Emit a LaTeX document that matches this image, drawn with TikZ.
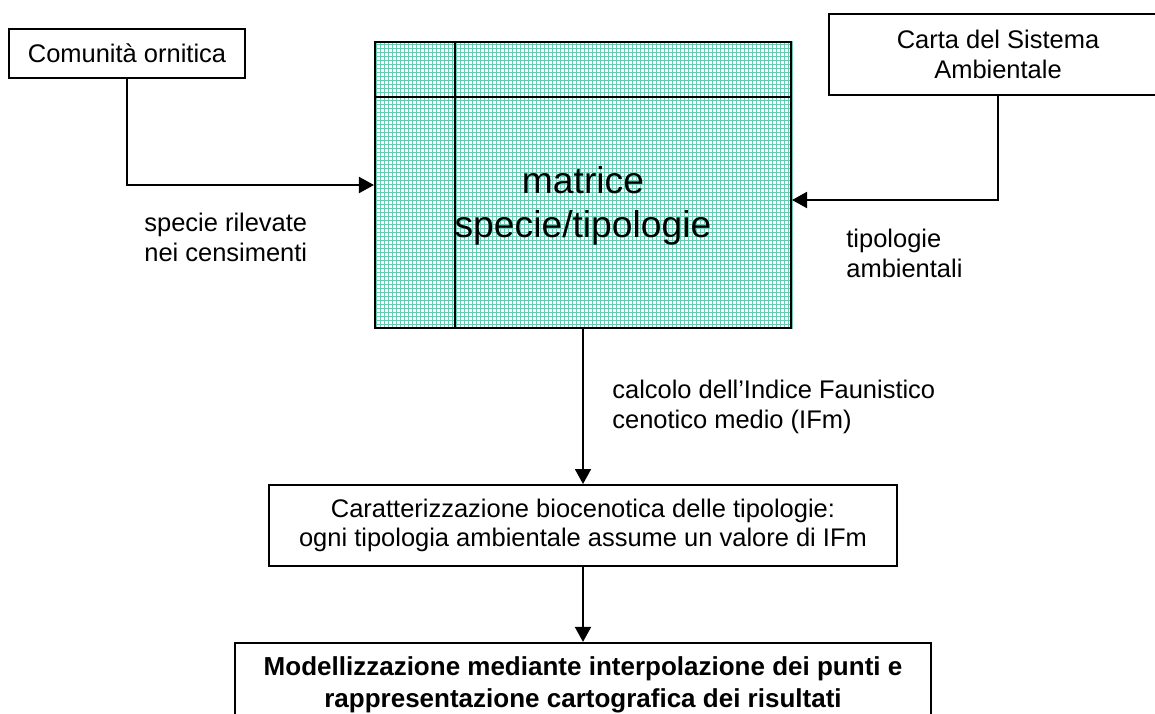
\documentclass[tikz,border=0pt]{standalone}
\usepackage{fontspec}
\setmainfont{Liberation Sans}
\usepackage{tikz}
\usetikzlibrary{arrows.meta, positioning, calc, backgrounds}
\definecolor{GridGreen}{RGB}{58, 226, 184}

\begin{document}
\begin{tikzpicture}[
    x=0.02cm, y=-0.02cm,
    font=\fontsize{14.5}{17.5}\selectfont,
    box/.style={rectangle, draw=black, line width=1.1pt, fill=white,
                align=center, inner sep=0pt},
    matrixbox/.style={rectangle, draw=black, line width=1.2pt,
                      minimum width=8.32cm, minimum height=5.72cm},
    mattitle/.style={align=center, inner sep=0pt,
                     font=\fontsize{21.2}{25}\selectfont},
    label/.style={anchor=west, align=left, inner sep=0pt,
                  font=\fontsize{14.5}{17}\selectfont},
    gridline/.style={draw=GridGreen, line width=0.4pt, step=0.08cm},
    arrow/.style={-{Triangle[length=0.3cm, width=0.32cm]}, line width=1.1pt}
]
\useasboundingbox (0,0) rectangle (1155,713);
\clip (0,0) rectangle (1155,713);

% Matrix
\node[matrixbox] (mat) at (583,185) {};
\begin{scope}[on background layer]
  \fill[white] (mat.south west) rectangle (mat.north east);
  \draw[gridline] (mat.south west) grid (mat.north east);
\end{scope}
\draw[line width=0.9pt] ($(mat.north west)+(81,0)$) -- ($(mat.south west)+(81,0)$);
\draw[line width=0.9pt] ($(mat.north west)+(0,56)$) -- ($(mat.north east)+(0,56)$);
\node[mattitle] (mattext) at (583,206) {matrice\\specie/tipologie};

% Inputs
\node[box, minimum width=4.72cm, minimum height=0.98cm] (com) at (127,53.5) {Comunità ornitica};
\node[box, minimum width=6.76cm, minimum height=1.62cm] (carta) at (998,54.5) {Carta del Sistema\\Ambientale};

% Results
\node[box, minimum width=12.56cm, minimum height=1.62cm, below=3.1cm of mat,
      font=\fontsize{14.5}{16.5}\selectfont] (car)
  {Caratterizzazione biocenotica delle tipologie:\\ogni tipologia ambientale assume un valore di IFm};
\node[box, minimum width=13.92cm, minimum height=1.68cm, below=1.5cm of car,
      font=\fontsize{14.8}{18.5}\selectfont\bfseries] (model)
  {Modellizzazione mediante interpolazione dei punti e\\rappresentazione cartografica dei risultati};

% Labels
\node[label] (lspecie) at (144,237) {specie rilevate\\nei censimenti};
\node[label] (ltipo) at (846,253) {tipologie\\ambientali};
\node[label] (lcalc) at (612,407) {calcolo dell’Indice Faunistico\\cenotico medio (IFm)};

% Arrows
\coordinate (matin) at ($(mat.east)+(0,15)$);
\draw[arrow] (com.south) |- (mat.west);
\draw[arrow] (carta.south) |- (matin);
\draw[arrow] (mat.south) -- (car.north);
\draw[arrow] (car.south) -- (model.north);

\end{tikzpicture}
\end{document}
